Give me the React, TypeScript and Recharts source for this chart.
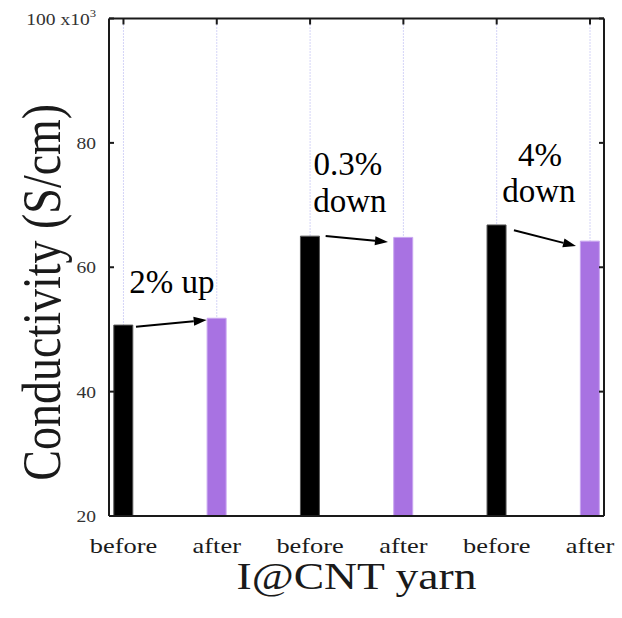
import React from "react";
import {
  BarChart, Bar, Cell, XAxis, YAxis, CartesianGrid, ReferenceLine, ReferenceDot,
} from "recharts";

const labels = ["before", "after", "before", "after", "before", "after"];
const conductivity = [50.7, 51.8, 65.0, 64.8, 66.8, 64.2];
const positions = [1, 2, 3, 4, 5, 6];
const yTicks = [20, 40, 60, 80, 100];

// arrows between each pair, in data units: [x1, y1, x2, y2]
const arrows = [
  [1.134, 50.45, 1.892, 51.51],
  [3.167, 65.02, 3.835, 64.06],
  [5.185, 65.94, 5.85, 63.41],
];
// annotation texts, anchored at their centre
const notes = [
  { text: "2% up", x: 1.52, y: 57.8 },
  { text: "0.3%", x: 3.406, y: 76.7 },
  { text: "down", x: 3.427, y: 70.8 },
  { text: "4%", x: 5.464, y: 78.15 },
  { text: "down", x: 5.453, y: 72.3 },
];

const data = positions.map((p, i) => ({ pos: p, label: labels[i], value: conductivity[i] }));

const FONT = "'Liberation Serif', 'Times New Roman', serif";
const INK = "#1a1a1a";
const XDOM: [number, number] = [0.845, 6.15];

// the source figure is stretched sideways, so its axis texts are drawn a bit wide
function YTick({ x, y, payload }: any) {
  const v = payload.value;
  return (
    <text transform={`translate(${x},${y}) scale(1.15,1)`} dy="0.355em" textAnchor="end"
      fontFamily={FONT} fontSize={17} fill="#333">
      {v === 100 ? <>100 x10<tspan dy={-8} fontSize={11}>3</tspan></> : v}
    </text>
  );
}

function XTick({ x, y, payload }: any) {
  return (
    <text transform={`translate(${x},${y}) scale(1.2,1)`} dy="0.71em" textAnchor="middle"
      fontFamily={FONT} fontSize={22} fill={INK}>
      {labels[payload.value - 1]}
    </text>
  );
}

function Arrow(props: any) {
  const { x1, y1, x2, y2 } = props;
  const a = Math.atan2(y2 - y1, x2 - x1);
  const len = 13, half = 4.5;
  const bx = x2 - len * Math.cos(a), by = y2 - len * Math.sin(a);
  const px = -Math.sin(a) * half, py = Math.cos(a) * half;
  return (
    <g>
      <line x1={x1} y1={y1} x2={bx} y2={by} stroke="#000" strokeWidth={2} />
      <polygon points={`${x2},${y2} ${bx + px},${by + py} ${bx - px},${by - py}`} fill="#000" />
    </g>
  );
}

const noteShape = (text: string) => (p: any) => (
  <text x={p.cx} y={p.cy} dy="0.355em" textAnchor="middle" fontFamily={FONT} fontSize={33} fill="#000">
    {text}
  </text>
);

export default function App() {
  return (
    <div style={{ position: "absolute", left: 0, top: 0, width: 622, height: 618, background: "#fff" }}>
      <BarChart
        width={622}
        height={618}
        data={data}
        margin={{ top: 18.5, right: 18, left: 49, bottom: 62 }}
        barSize={19}
      >
        <CartesianGrid horizontal={false} stroke="#a9a9ee" strokeDasharray="1 2" />
        <XAxis
          dataKey="pos"
          type="number"
          domain={XDOM}
          ticks={positions}
          allowDataOverflow
          height={40}
          tickLine={false}
          tickMargin={15}
          axisLine={{ stroke: INK, strokeWidth: 2 }}
          tick={<XTick />}
          label={{
            content: ({ viewBox }: any) => (
              <text transform={`translate(${viewBox.x + viewBox.width / 2},${viewBox.y + 73}) scale(1.2,1)`}
                textAnchor="middle" fontFamily={FONT} fontSize={38} fill={INK}>
                I@CNT yarn
              </text>
            ),
          }}
        />
        <XAxis
          xAxisId="top"
          orientation="top"
          mirror
          dataKey="pos"
          type="number"
          domain={XDOM}
          ticks={positions}
          allowDataOverflow
          tickSize={6}
          tickFormatter={() => ""}
          axisLine={{ stroke: INK, strokeWidth: 2 }}
          tickLine={{ stroke: INK, strokeWidth: 2 }}
        />
        <YAxis
          domain={[20, 100]}
          ticks={yTicks}
          allowDataOverflow
          width={60}
          tickLine={false}
          tickMargin={7}
          axisLine={{ stroke: INK, strokeWidth: 2 }}
          tick={<YTick />}
          label={{
            content: ({ viewBox }: any) => (
              <text transform={`translate(${viewBox.x + 11},${viewBox.y + viewBox.height / 2 + 25}) scale(1.2,1) rotate(-90)`}
                textAnchor="middle" fontFamily={FONT} fontSize={46} fill={INK}>
                Conductivity (S/cm)
              </text>
            ),
          }}
        />
        <YAxis
          yAxisId="leftTicks"
          mirror
          domain={[20, 100]}
          ticks={yTicks}
          allowDataOverflow
          tickSize={5}
          tickFormatter={() => ""}
          axisLine={false}
          tickLine={{ stroke: INK, strokeWidth: 2 }}
        />
        <YAxis
          yAxisId="right"
          orientation="right"
          mirror
          domain={[20, 100]}
          ticks={yTicks}
          allowDataOverflow
          tickSize={5}
          tickFormatter={() => ""}
          axisLine={{ stroke: INK, strokeWidth: 2 }}
          tickLine={{ stroke: INK, strokeWidth: 2 }}
        />
        <Bar dataKey="value" isAnimationActive={false}>
          {data.map((d, i) => (
            <Cell
              key={i}
              fill={i % 2 === 0 ? "#000000" : "#a872e2"}
              stroke={i % 2 === 0 ? "#555555" : "#c8a6f0"}
              strokeWidth={1}
            />
          ))}
        </Bar>
        {arrows.map((a, i) => (
          <ReferenceLine
            key={"arr" + i}
            segment={[{ x: a[0], y: a[1] }, { x: a[2], y: a[3] }]}
            shape={<Arrow />}
          />
        ))}
        {notes.map((n, i) => (
          <ReferenceDot key={"note" + i} x={n.x} y={n.y} r={0} shape={noteShape(n.text)} />
        ))}
      </BarChart>
    </div>
  );
}
